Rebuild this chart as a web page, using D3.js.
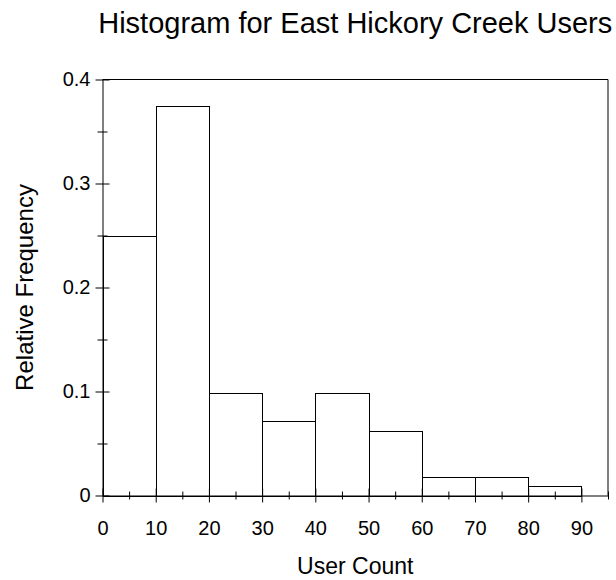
<!DOCTYPE html>
<html>
<head>
<meta charset="utf-8">
<script src="https://cdn.jsdelivr.net/npm/d3@7"></script>
<style>
  body { margin: 0; background: #fff; }
  svg { font-family: "Liberation Sans", Arial, sans-serif; }
</style>
</head>
<body>
<script>
// relative frequency per 10-user bin (n = 112)
const binStarts = [0, 10, 20, 30, 40, 50, 60, 70, 80]
const binWidth = 10
const relFreq = [0.25, 0.375, 0.0982, 0.0714, 0.0982, 0.0625, 0.0179, 0.0179, 0.0089]
const xMajorTicks = [0, 10, 20, 30, 40, 50, 60, 70, 80, 90]
const xMinorTicks = [5, 15, 25, 35, 45, 55, 65, 75, 85, 95]
const yMajorTicks = [0, 0.1, 0.2, 0.3, 0.4]
const yMinorTicks = [0.05, 0.15, 0.25, 0.35]

const width = 616
const height = 580
const margin = {top: 79.5, right: 8, bottom: 84.5, left: 102.5}
const plotW = width - margin.left - margin.right
const plotH = height - margin.top - margin.bottom

const svg = d3.select("body").append("svg")
    .attr("width", width)
    .attr("height", height)

const x = d3.scaleLinear().domain([0, 95]).range([margin.left, margin.left + plotW])
const y = d3.scaleLinear().domain([0, 0.4]).range([margin.top + plotH, margin.top])

// bars
svg.append("g")
  .selectAll("rect")
  .data(binStarts.map(function (s, i) { return {x0: s, x1: s + binWidth, v: relFreq[i]} }))
  .enter()
  .append("rect")
    .attr("x", function (d) { return Math.round(x(d.x0)) + 0.5 })
    .attr("y", function (d) { return Math.round(y(d.v)) + 0.5 })
    .attr("width", function (d) { return Math.round(x(d.x1)) - Math.round(x(d.x0)) })
    .attr("height", function (d) { return Math.round(y(0)) - Math.round(y(d.v)) })
    .style("fill", "white")
    .style("stroke", "#000")
    .style("stroke-width", 1)

// frame: top and right edges
svg.append("path")
    .attr("d", `M${x(0)},${y(0.4)}H${x(95)}V${y(0)}`)
    .style("fill", "none")
    .style("stroke", "#000")

// x axis
const xAxis = svg.append("g")
    .attr("transform", `translate(0,${y(0)})`)
    .call(d3.axisBottom(x).tickValues(xMajorTicks).tickSize(7).tickPadding(18).tickSizeOuter(0))
xAxis.selectAll(".tick line").attr("y1", -7)
xAxis.selectAll("text").style("font-size", "20px").attr("fill", "#000")

const xMinor = svg.append("g")
    .attr("transform", `translate(0,${y(0)})`)
    .call(d3.axisBottom(x).tickValues(xMinorTicks).tickSize(4).tickFormat("").tickSizeOuter(0))
xMinor.selectAll(".tick line").attr("y1", -4)
xMinor.select(".domain").remove()

// y axis
const yAxis = svg.append("g")
    .attr("transform", `translate(${x(0)},0)`)
    .call(d3.axisLeft(y).tickValues(yMajorTicks).tickSize(7).tickPadding(5).tickSizeOuter(0)
      .tickFormat(function (d) { return d === 0 ? "0" : d3.format(".1f")(d) }))
yAxis.selectAll(".tick line").attr("x1", 7)
yAxis.selectAll("text").style("font-size", "20px").attr("fill", "#000")

const yMinor = svg.append("g")
    .attr("transform", `translate(${x(0)},0)`)
    .call(d3.axisLeft(y).tickValues(yMinorTicks).tickSize(5).tickFormat("").tickSizeOuter(0))
yMinor.selectAll(".tick line").attr("x1", 5)
yMinor.select(".domain").remove()

// titles
svg.append("text")
    .attr("x", (x(0) + x(95)) / 2)
    .attr("y", 33)
    .attr("text-anchor", "middle")
    .style("font-size", "29px")
    .text("Histogram for East Hickory Creek Users")

svg.append("text")
    .attr("x", (x(0) + x(95)) / 2)
    .attr("y", 574)
    .attr("text-anchor", "middle")
    .style("font-size", "23px")
    .text("User Count")

svg.append("text")
    .attr("transform", `translate(33,${(y(0) + y(0.4)) / 2}) rotate(-90)`)
    .attr("text-anchor", "middle")
    .style("font-size", "24px")
    .text("Relative Frequency")
</script>
</body>
</html>
